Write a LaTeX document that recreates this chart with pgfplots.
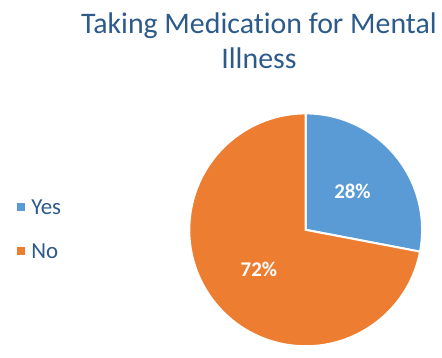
\documentclass[border=0pt]{standalone}
\usepackage{pgfplots}
\pgfplotsset{compat=1.18}
\usepackage{pgfplotstable}
\usepackage{fontspec}
\setmainfont{Carlito}[Ligatures=NoCommon]

\definecolor{yesc}{HTML}{5B9BD5}
\definecolor{noc}{HTML}{ED7D31}
\definecolor{titlec}{HTML}{2C5A8A}

% share of respondents, in percent
\pgfplotstableread{
label value
Yes 28
No 72
}\piedata

\begin{document}
\pgfplotstablegetelem{0}{value}\of\piedata \let\yesval\pgfplotsretval
\pgfplotstablegetelem{1}{value}\of\piedata \let\noval\pgfplotsretval
\pgfmathsetmacro{\yesend}{90-3.6*\yesval}
\begin{tikzpicture}
\begin{axis}[
    scale only axis,
    width=442pt, height=349pt,
    xmin=0, xmax=442, ymin=0, ymax=349,
    hide axis, clip=false,
    legend cell align=left,
    legend style={at={(axis cs:12,117.5)}, anchor=west, draw=none, fill=none,
        font=\fontsize{23}{26}\selectfont, text=titlec, row sep=24pt},
]
\path (axis cs:0,0) rectangle (axis cs:442,349);
\addlegendimage{legend image code/.code={\path[draw=none, fill=none] (0pt,-4pt) rectangle (12pt,4pt);
    \fill[draw=none, yesc] (0pt,-3pt) rectangle (8pt,5pt);}}
\addlegendentry{Yes}
\addlegendimage{legend image code/.code={\path[draw=none, fill=none] (0pt,-4pt) rectangle (12pt,4pt);
    \fill[draw=none, noc] (0pt,-3pt) rectangle (8pt,5pt);}}
\addlegendentry{No}

% slices
\filldraw[fill=yesc, draw=white, line width=2pt] (axis cs:305,118) -- ++(90:117pt)
    arc[start angle=90, end angle=\yesend, radius=117pt] -- cycle;
\filldraw[fill=noc, draw=white, line width=2pt] (axis cs:305,118) -- ++(\yesend:117pt)
    arc[start angle=\yesend, end angle=-270, radius=117pt] -- cycle;

\node[white, font=\bfseries\fontsize{21}{24}\selectfont] at (axis cs:352,157) {\yesval\%};
\node[white, font=\bfseries\fontsize{21}{24}\selectfont] at (axis cs:258,78) {\noval\%};

% title
\node[titlec, anchor=base, font=\fontsize{30}{36}\selectfont] at (axis cs:258,315) {Taking Medication for Mental};
\node[titlec, anchor=base, font=\fontsize{30}{36}\selectfont] at (axis cs:258,280) {Illness};
\end{axis}
\end{tikzpicture}
\end{document}
